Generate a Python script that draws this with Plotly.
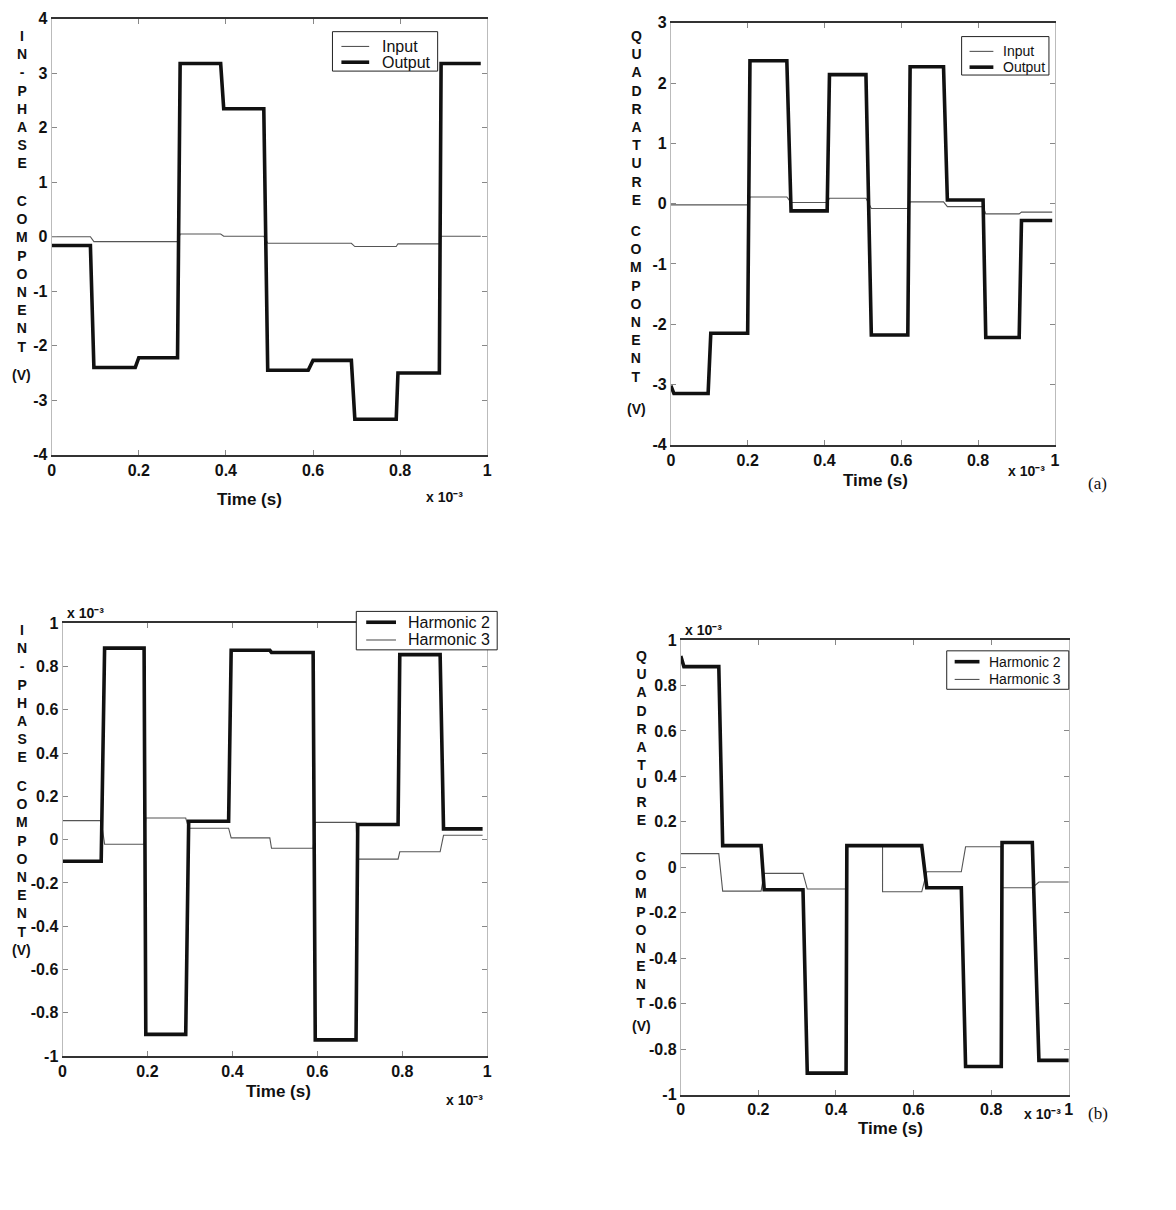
import plotly.graph_objects as go

W, H = 1176, 1210

# ---------------- data (time in ms -> axis reads "x 10^-3" s) ----------------
x_ticks = [0, 0.2, 0.4, 0.6, 0.8, 1.0]

# (a) left: in-phase component (V)
tl_seg_start = [0.000, 0.097, 0.200, 0.295, 0.395, 0.496, 0.600, 0.696, 0.795, 0.894]
tl_seg_end   = [0.089, 0.192, 0.289, 0.388, 0.487, 0.589, 0.688, 0.791, 0.890, 0.985]
tl_output    = [-0.16, -2.40, -2.22, 3.18, 2.35, -2.45, -2.27, -3.35, -2.50, 3.18]
tl_input     = [0.00, -0.09, -0.09, 0.05, 0.01, -0.12, -0.12, -0.18, -0.13, 0.01]
tl_y_ticks   = [-4, -3, -2, -1, 0, 1, 2, 3, 4]

# (a) right: quadrature component (V)
tr_seg_start = [0.000, 0.104, 0.206, 0.313, 0.413, 0.522, 0.623, 0.720, 0.820, 0.913]
tr_seg_end   = [0.097, 0.200, 0.302, 0.407, 0.508, 0.617, 0.710, 0.813, 0.907, 0.993]
tr_output    = [-3.15, -2.15, 2.37, -0.12, 2.14, -2.18, 2.27, 0.06, -2.22, -0.28]
tr_output_initial = -3.02
tr_output_settle = 0.008
tr_input     = [-0.02, -0.02, 0.11, 0.02, 0.09, -0.08, 0.03, -0.05, -0.17, -0.14]
tr_y_ticks   = [-4, -3, -2, -1, 0, 1, 2, 3]

# (b) left: in-phase component (x 10^-3 V)
bl_seg_start = [0.000, 0.099, 0.196, 0.297, 0.397, 0.492, 0.595, 0.695, 0.794, 0.897]
bl_seg_end   = [0.091, 0.192, 0.290, 0.391, 0.488, 0.590, 0.691, 0.790, 0.889, 0.989]
bl_harm2     = [-0.10, 0.885, -0.90, 0.085, 0.875, 0.865, -0.925, 0.07, 0.855, 0.05]
bl_harm3     = [0.088, -0.021, 0.10, 0.053, 0.008, -0.04, 0.08, -0.09, -0.056, 0.02]

# (b) right: quadrature component (x 10^-3 V)
br_seg_start = [0.000, 0.108, 0.215, 0.326, 0.428, 0.520, 0.634, 0.734, 0.828, 0.923]
br_seg_end   = [0.098, 0.207, 0.315, 0.426, 0.520, 0.621, 0.723, 0.826, 0.906, 1.000]
br_harm2     = [0.883, 0.095, -0.099, -0.906, 0.095, 0.095, -0.09, -0.877, 0.109, -0.85]
br_harm2_initial = 0.93
br_harm2_settle = 0.008
br_harm3     = [0.06, -0.105, -0.027, -0.096, 0.095, -0.108, -0.02, 0.09, -0.09, -0.065]
b_y_ticks    = [-1, -0.8, -0.6, -0.4, -0.2, 0, 0.2, 0.4, 0.6, 0.8, 1]

# ---------------- styling ----------------
THICK = dict(color="#111111", width=3.6)
THIN = dict(color="#555555", width=1.1)
SANS = "Liberation Sans, Arial, Helvetica, sans-serif"
SERIF = "Liberation Serif, Times New Roman, serif"


def px_x(p):
    return p / W


def px_y(p):
    return 1 - p / H


def steps(t0, t1, vals, initial=None, settle=None):
    xs, ys = [], []
    for a, b, v in zip(t0, t1, vals):
        xs += [a, b]
        ys += [v, v]
    if initial is not None:
        xs = [t0[0], t0[0] + settle] + xs[1:]
        ys = [initial, vals[0]] + ys[1:]
    return xs, ys


fig = go.Figure()


def add(ax, t0, t1, vals, line, name, initial=None, settle=None):
    xs, ys = steps(t0, t1, vals, initial, settle)
    fig.add_trace(go.Scatter(x=xs, y=ys, mode="lines", line=line, name=name,
                             xaxis="x" + ax, yaxis="y" + ax, showlegend=False,
                             hoverinfo="x+y+name"))


# thin drawn first, thick on top
add("", tl_seg_start, tl_seg_end, tl_input, THIN, "Input")
add("", tl_seg_start, tl_seg_end, tl_output, THICK, "Output")
add("2", tr_seg_start, tr_seg_end, tr_input, THIN, "Input")
add("2", tr_seg_start, tr_seg_end, tr_output, THICK, "Output", tr_output_initial, tr_output_settle)
add("3", bl_seg_start, bl_seg_end, bl_harm3, THIN, "Harmonic 3")
add("3", bl_seg_start, bl_seg_end, bl_harm2, THICK, "Harmonic 2")
add("4", br_seg_start, br_seg_end, br_harm3, THIN, "Harmonic 3")
add("4", br_seg_start, br_seg_end, br_harm2, THICK, "Harmonic 2", br_harm2_initial, br_harm2_settle)

# plot areas in pixels: (left, right, top, bottom)
boxes = {
    "": (48, 487, 11, 453),
    "2": (672, 1059, 15, 443),
    "3": (59, 487, 624, 1063),
    "4": (682, 1073, 641, 1102),
}
yranges = {"": [-4, 4], "2": [-4, 3], "3": [-1, 1], "4": [-1, 1]}
yticks = {"": tl_y_ticks, "2": tr_y_ticks, "3": b_y_ticks, "4": b_y_ticks}

tickfont = dict(family=SANS, size=16, color="#111111", weight="bold")
layout = dict(
    width=W, height=H, autosize=False,
    margin=dict(l=0, r=0, t=0, b=0),
    paper_bgcolor="white", plot_bgcolor="white",
    showlegend=False,
)
for ax, (l, r, t, b) in boxes.items():
    layout["xaxis" + ax] = dict(
        domain=[px_x(l), px_x(r)], range=[0, 1], anchor="y" + ax,
        tickvals=x_ticks, ticktext=[f"{v:g}" for v in x_ticks],
        ticks="inside", ticklen=5, tickcolor="#888888",
        showline=True, mirror="ticks", linecolor="#333333", linewidth=1.5,
        showgrid=False, zeroline=False, tickfont=tickfont,
    )
    layout["yaxis" + ax] = dict(
        domain=[px_y(b), px_y(t)], range=yranges[ax], anchor="x" + ax,
        tickvals=yticks[ax], ticktext=[f"{v:g}" for v in yticks[ax]],
        ticks="inside", ticklen=5, tickcolor="#888888",
        showline=True, mirror="ticks", linecolor="#bbbbbb", linewidth=1,
        showgrid=False, zeroline=False, tickfont=tickfont,
    )
fig.update_layout(**layout)

annotations = []
shapes = []


def ann(x, y, text, size=15, family=SANS, bold=True, xanchor="center", yanchor="middle"):
    annotations.append(dict(
        x=px_x(x), y=px_y(y), xref="paper", yref="paper", text=text, showarrow=False,
        xanchor=xanchor, yanchor=yanchor,
        font=dict(family=family, size=size, color="#111111", weight="bold" if bold else "normal"),
    ))


def stack(word):
    return "<br>".join(list(word))


# vertical y-axis titles
ann(18, 93, stack("IN-PHASE"), 14)
ann(18, 270, stack("COMPONENT"), 14)
ann(18, 372, "(V)", 14)
ann(637, 112, stack("QUADRATURE"), 14)
ann(637, 300, stack("COMPONENT"), 14)
ann(637, 407, "(V)", 14)
ann(18, 695, stack("IN-PHASE"), 14)
ann(18, 863, stack("COMPONENT"), 14)
ann(18, 955, "(V)", 14)
ann(642, 740, stack("QUADRATURE"), 14)
ann(642, 935, stack("COMPONENT"), 14)
ann(642, 1032, "(V)", 14)

# x-axis titles
ann(247, 498, "Time (s)", 17)
ann(878, 479, "Time (s)", 17)
ann(277, 1099, "Time (s)", 17)
ann(893, 1136, "Time (s)", 17)

# exponent labels
exp = "x 10⁻³"
ann(423, 496, exp, 14, xanchor="left")
ann(1010, 470, exp, 14, xanchor="left")
ann(443, 1108, exp, 14, xanchor="left")
ann(1026, 1122, exp, 14, xanchor="left")
ann(61, 614, exp, 14, xanchor="left")
ann(684, 631, exp, 14, xanchor="left")

# panel labels
ann(1102, 482, "(a)", 17, family=SERIF, bold=False)
ann(1102, 1121, "(b)", 17, family=SERIF, bold=False)


# legends drawn as boxes: (left, right, top, bottom), sample line span, text offset, font size
def legend(box, items, s0, s1, tx, size):
    l, r, t, b = box
    shapes.append(dict(type="rect", xref="paper", yref="paper",
                       x0=px_x(l), x1=px_x(r), y0=px_y(b), y1=px_y(t),
                       line=dict(color="#222222", width=1), fillcolor="white", layer="above"))
    for (label, style, yc) in items:
        shapes.append(dict(type="line", xref="paper", yref="paper",
                           x0=px_x(l + s0), x1=px_x(l + s1), y0=px_y(yc), y1=px_y(yc),
                           line=dict(color=style["color"], width=style["width"]), layer="above"))
        ann(l + tx, yc, label, size, bold=False, xanchor="left")


legend((331, 437, 24, 64), [("Input", THIN, 39), ("Output", THICK, 55)], 9, 37, 48, 16)
legend((965, 1053, 29, 68), [("Input", THIN, 44), ("Output", THICK, 60)], 8, 32, 40, 14)
legend((355, 497, 612, 651), [("Harmonic 2", THICK, 623), ("Harmonic 3", THIN, 641)], 10, 40, 50, 16)
legend((950, 1073, 652, 691), [("Harmonic 2", THICK, 663), ("Harmonic 3", THIN, 681)], 8, 33, 41, 14)

fig.update_layout(annotations=annotations, shapes=shapes)
fig.write_html("out.html", config={"displayModeBar": False},
               post_script="document.body.style.margin='0';document.body.style.overflow='hidden';")
